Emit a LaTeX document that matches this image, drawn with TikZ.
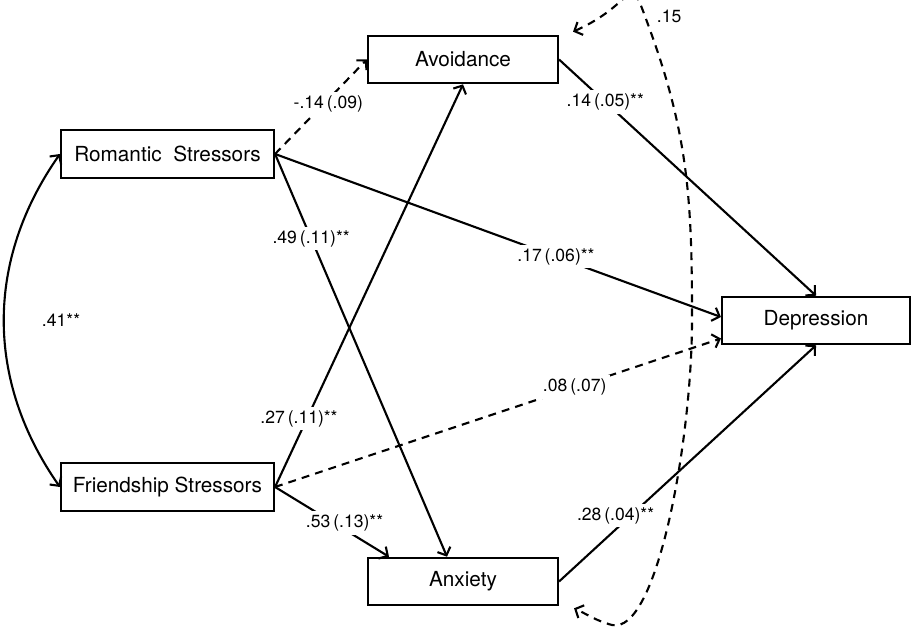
\documentclass[tikz,border=0pt]{standalone}
\usepackage{fontspec}
\setmainfont{TeX Gyre Heros}
\usetikzlibrary{arrows.meta,positioning}

\begin{document}
\begin{tikzpicture}[
    barb/.tip={Straight Barb[length=1.3mm,width=2.8mm]},
    var/.style={draw, line width=1.2pt, inner sep=0pt, minimum height=0.95cm, font=\fontsize{11.8}{14}\selectfont},
    effect/.style={line width=1.2pt, -barb},
    covar/.style={line width=1.2pt, barb-barb},
    nonsig/.style={dash pattern=on 4.5pt off 3.5pt},
    coef/.style={fill=white, inner sep=2pt, font=\fontsize{10}{12}\selectfont}
]
    \useasboundingbox (0,0) rectangle (18.22,12.58);
    \clip (0,0) rectangle (18.22,12.58);

    % variables
    \node (rom) [var, minimum width=4.26cm] at (3.35,9.5) {Romantic\ \ Stressors};
    \node (fri) [var, minimum width=4.26cm] at (3.35,2.84) {Friendship Stressors};
    \node (avo) [var, minimum width=3.8cm] at (9.26,11.39) {Avoidance};
    \node (anx) [var, minimum width=3.8cm] at (9.26,0.95) {Anxiety};
    \node (dep) [var, minimum width=3.76cm] at (16.32,6.17) {Depression};

    % paths
    \draw[effect, nonsig] (rom.east) -- node[coef, pos=0.58, yshift=-0.1cm] {-.14\,(.09)} (avo.west);
    \draw[effect] (rom.east) -- node[coef, pos=0.63] {.17\,(.06)**} ([yshift=0.07cm]dep.west);
    \draw[effect] (rom.east) -- node[coef, pos=0.21] {.49\,(.11)**} ([xshift=-0.32cm]anx.north);
    \draw[effect] (fri.east) -- node[coef, pos=0.17, xshift=-0.16cm] {.27\,(.11)**} (avo.south);
    \draw[effect, nonsig] (fri.east) -- node[coef, pos=0.672] {.08\,(.07)} ([yshift=-0.36cm]dep.west);
    \draw[effect] (fri.east) -- node[coef, pos=0.61, yshift=0.13cm] {.53\,(.13)**} ([xshift=0.44cm]anx.north west);
    \draw[effect] (avo.east) -- node[coef, pos=0.18] {.14\,(.05)**} (dep.north);
    \draw[effect] (anx.east) -- node[coef, pos=0.22, yshift=0.28cm] {.28\,(.04)**} (dep.south);

    % covariances
    \draw[covar] (rom.west) to[out=-125, in=125]
        node[pos=0.5, right=0.62cm, font=\fontsize{10}{12}\selectfont] {.41**} (fri.west);

    \coordinate (avotip) at ([xshift=0.28cm, yshift=0.06cm]avo.north east);
    \coordinate (anxtip) at ([xshift=0.3cm, yshift=-0.04cm]anx.south east);
    \coordinate (loopa) at (13.0,11.98);
    \coordinate (loopb) at (13.84,6.18);
    \coordinate (loopc) at (12.24,0.08);
    \draw[covar, nonsig] (avotip) .. controls +(24:1.5) and +(110:1.4) .. (loopa)
        node[anchor=south west, font=\fontsize{10}{12}\selectfont] {.15}
        to[out=-70, in=90] (loopb) .. controls +(0,-2.4) and +(0.9,-0.2) .. (loopc)
        to[out=165, in=-25] (anxtip);
\end{tikzpicture}
\end{document}
